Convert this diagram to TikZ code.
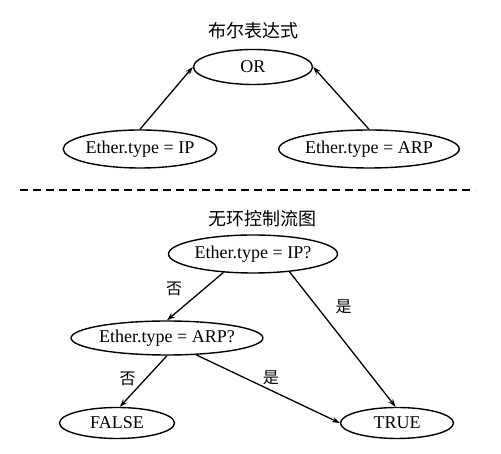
\documentclass[tikz,border=0pt]{standalone}
\usepackage{fontspec}
\setmainfont{Liberation Serif}
\newfontfamily\cjk{Noto Sans CJK SC}
\usetikzlibrary{positioning, shapes.geometric, arrows.meta}

\begin{document}
\begin{tikzpicture}[x=1pt, y=1pt, on grid, >={Stealth[length=8pt, width=5.5pt]},
font=\fontsize{18}{20}\selectfont,
cond/.style= {ellipse, draw=black, line width=1.4pt, inner sep=0pt},
heading/.style= {font=\cjk\fontsize{18}{20}\selectfont},
answer/.style= {font=\cjk\fontsize{16}{18}\selectfont, inner sep=0pt},
link/.style= {->, line width=1.3pt} ]
\useasboundingbox (0,0) rectangle (501,454);
% boolean expression
\node (OR) [cond, minimum width=119pt, minimum height=35pt] at (253,387) {OR};
\node (T1) [heading, above = 36pt of OR] {布尔表达式};
\node (IPe) [cond, minimum width=130pt, minimum height=38pt, below left = 82pt and 113pt of OR] {Ether.type = IP};
\node (ARPe) [cond, minimum width=168pt, minimum height=38pt, below right = 82pt and 116pt of OR] {Ether.type = ARP};
\path (IPe.north) edge[link] (OR.west);
\path (ARPe.north) edge[link] (OR.east);
% separator
\coordinate (SL) at (20,264);
\coordinate (SR) at (475,264);
\draw[line width=1.1pt, dash pattern=on 8pt off 5pt] (SL) -- (SR);
% control flow graph
\node (IPq) [cond, minimum width=169pt, minimum height=38pt, below = 187pt of OR] {Ether.type = IP?};
\node (T2) [heading, above right = 35pt and 9pt of IPq] {无环控制流图};
\node (ARPq) [cond, minimum width=168pt, minimum height=34pt, below left = 84pt and 86pt of IPq] {Ether.type = ARP?};
\node (F) [cond, minimum width=115pt, minimum height=31pt, below left = 85pt and 50pt of ARPq] {FALSE};
\node (T) [cond, minimum width=113pt, minimum height=31pt, right = 280pt of F] {TRUE};
\path (IPq.212) edge[link] node[answer, left=21pt, pos=.35] {否} (ARPq.north);
\path (IPq.334) edge[link] node[answer, right=18pt, pos=.26] {是} (T.95);
\path (ARPq.south) edge[link] node[answer, left=9pt, pos=.46] {否} (F.80);
\path (ARPq.330) edge[link] node[answer, above=5pt, pos=.52] {是} (T.west);
\end{tikzpicture}
\end{document}
